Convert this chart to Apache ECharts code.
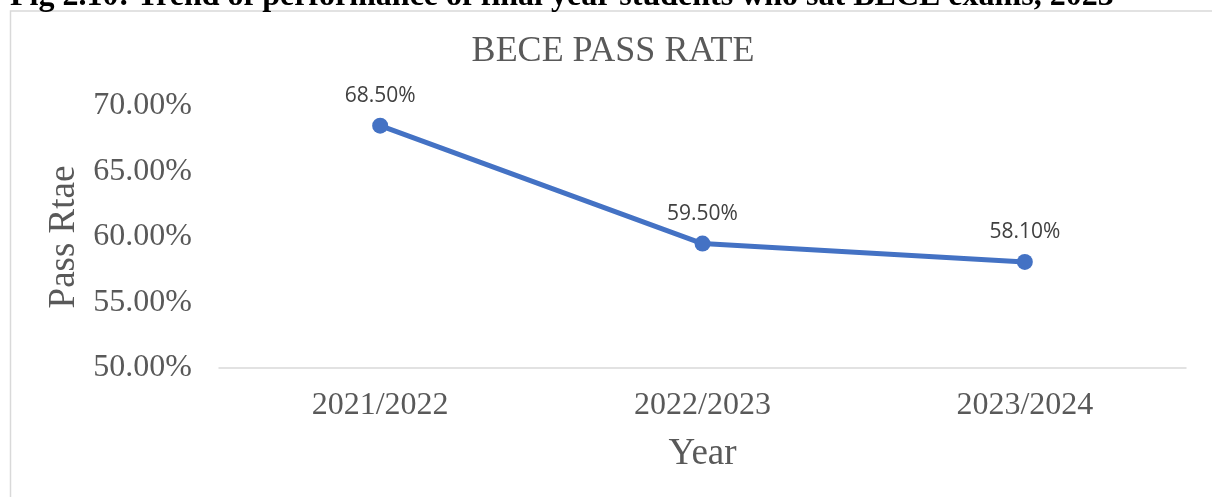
<!DOCTYPE html>
<html>
<head>
<meta charset="utf-8">
<script src="https://cdn.jsdelivr.net/npm/echarts@6/dist/echarts.min.js"></script>
<style>
  html, body { margin: 0; padding: 0; background: #ffffff; }
  #chart { width: 1212px; height: 497px; }
</style>
</head>
<body>
<div id="chart"></div>
<script>
// BECE pass rate by academic year
const years = ['2021/2022', '2022/2023', '2023/2024'];
const passRate = [68.5, 59.5, 58.1];
const yTicks = { min: 50, max: 70, step: 5 };

const serif = '"Liberation Serif", "DejaVu Serif", serif';
const grey = '#595959';

const chart = echarts.init(document.getElementById('chart'), null, { renderer: 'canvas' });

chart.setOption({
  animation: false,
  backgroundColor: '#ffffff',
  graphic: [
    {
      // figure caption above the chart frame
      type: 'text',
      x: 10,
      y: -3,
      style: {
        text: 'Fig 2.10: Trend of performance of final year students who sat BECE exams, 2023',
        font: 'bold 32px ' + serif,
        fill: '#000000',
        verticalAlign: 'middle'
      },
      z: 1
    },
    {
      // chart frame
      type: 'rect',
      shape: { x: 10.5, y: 11, width: 1240, height: 520 },
      style: { fill: '#ffffff', stroke: '#d9d9d9', lineWidth: 1.5 },
      z: 0
    },
    {
      // chart title, centred on the frame
      type: 'text',
      x: 613,
      y: 52,
      style: {
        text: 'BECE PASS RATE',
        font: '36px ' + serif,
        fill: grey,
        align: 'center',
        verticalAlign: 'middle'
      },
      z: 2
    }
  ],
  grid: { left: 219, right: 26, top: 106, bottom: 129, containLabel: false },
  xAxis: {
    type: 'category',
    data: years,
    boundaryGap: true,
    name: 'Year',
    nameLocation: 'middle',
    nameGap: 68,
    nameTextStyle: { fontFamily: serif, fontSize: 37, color: grey },
    axisLine: { lineStyle: { color: '#d9d9d9', width: 1.5 } },
    axisTick: { show: false },
    axisLabel: { fontFamily: serif, fontSize: 32, color: grey, margin: 22 }
  },
  yAxis: {
    type: 'value',
    min: yTicks.min,
    max: yTicks.max,
    interval: yTicks.step,
    name: 'Pass Rtae',
    nameLocation: 'middle',
    nameGap: 131,
    nameTextStyle: { fontFamily: serif, fontSize: 37, color: grey },
    axisLine: { show: false },
    axisTick: { show: false },
    splitLine: { show: false },
    axisLabel: {
      fontFamily: serif, fontSize: 32, color: grey, margin: 27,
      formatter: v => v.toFixed(2) + '%'
    }
  },
  series: [{
    type: 'line',
    data: passRate,
    symbol: 'circle',
    symbolSize: 16,
    lineStyle: { color: '#4472c4', width: 5 },
    itemStyle: { color: '#4472c4' },
    label: {
      show: true,
      position: 'top',
      distance: 11,
      fontFamily: '"Open Sans", "Noto Sans", sans-serif',
      fontSize: 21,
      color: '#404040',
      formatter: p => p.value.toFixed(2) + '%'
    }
  }]
});
</script>
</body>
</html>
